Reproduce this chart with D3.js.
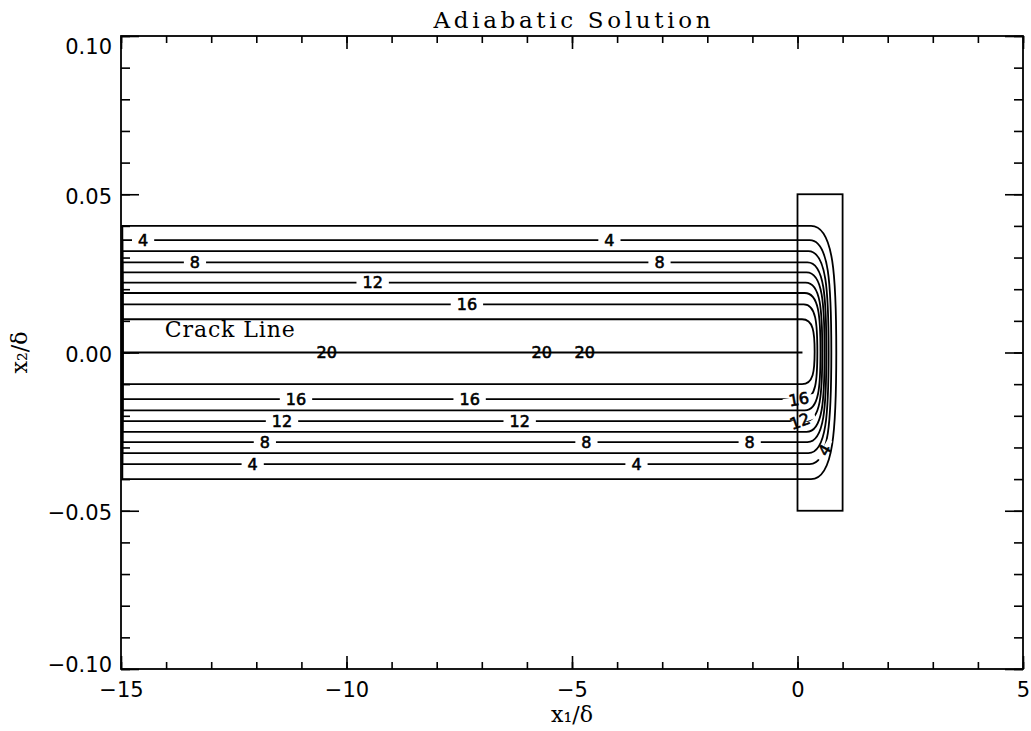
<!DOCTYPE html>
<html>
<head>
<meta charset="utf-8">
<script src="https://cdn.jsdelivr.net/npm/d3@7"></script>
<style>
  html, body { margin: 0; padding: 0; background: #fff; }
  svg { display: block; }
</style>
</head>
<body>
<div id="chart"></div>
<script>
// ---- data ----
// closed contours, outermost (2) to innermost (18); level 20 collapses on the crack line
const levels = [2, 4, 6, 8, 10, 12, 14, 16, 18]
const levelTop = [0.0400, 0.0355, 0.0320, 0.0285, 0.0253, 0.0221, 0.0188, 0.0152, 0.0105]
const levelBottom = [-0.0400, -0.0353, -0.0318, -0.0283, -0.0251, -0.0217, -0.0183, -0.0147, -0.0100]
const levelBend = [0.30, 0.27, 0.24, 0.22, 0.20, 0.18, 0.16, 0.14, 0.10]   // x where the flat part ends
const levelTip = [0.86, 0.75, 0.69, 0.64, 0.60, 0.55, 0.51, 0.44, 0.38]    // rightmost x of the loop
const levelStart = -14.97

const crackX = [-15, 0.11]
const crackY = [0, 0]

const boxX = [0, 1]
const boxY = [-0.05, 0.05]

// inline contour labels
const labelText = ['4', '4', '8', '8', '12', '16', '20', '20', '20',
  '16', '16', '16', '12', '12', '12', '8', '8', '8', '4', '4', '4']
const labelX = [-14.51, -4.17, -13.36, -3.06, -9.42, -7.33, -10.44, -5.67, -4.72,
  -11.12, -7.27, 0.03, -11.43, -6.16, 0.05, -11.81, -4.68, -1.06, -12.08, -3.57, 0.60]
const labelY = [0.0355, 0.0355, 0.0285, 0.0285, 0.0221, 0.0152, 0, 0, 0,
  -0.0147, -0.0147, -0.0147, -0.0217, -0.0217, -0.0217, -0.0283, -0.0283, -0.0283, -0.0353, -0.0353, -0.0308]
const labelAngle = [0, 0, 0, 0, 0, 0, 0, 0, 0,
  0, 0, -10, 0, 0, -20, 0, 0, 0, 0, 0, -60]

const xDomain = [-15, 5]
const yDomain = [-0.10, 0.10]
const xMajor = [-15, -10, -5, 0, 5]
const yMajor = [-0.10, -0.05, 0, 0.05, 0.10]

// ---- layout ----
const width = 1031
const height = 731
const margin = { top: 36, right: 8, bottom: 62, left: 121 }

const x = d3.scaleLinear().domain(xDomain).range([margin.left, width - margin.right])
const y = d3.scaleLinear().domain(yDomain).range([height - margin.bottom, margin.top])

const sans = '"DejaVu Sans", sans-serif'
const serif = '"DejaVu Serif", serif'
const lineW = 1.8

const svg = d3.select('#chart').append('svg')
  .attr('width', width)
  .attr('height', height)

function styleAxis(g) {
  g.select('.domain').remove()
  g.selectAll('.tick line').attr('stroke', '#000').attr('stroke-width', 1.6)
  g.selectAll('.tick text')
    .attr('fill', '#000').attr('font-size', '21px')
    .attr('font-family', sans)
}

// minor ticks
svg.append('g').attr('transform', `translate(0,${y(-0.1)})`)
  .call(d3.axisBottom(x).ticks(20).tickSize(-7).tickSizeOuter(0).tickFormat(''))
  .call(styleAxis)
svg.append('g').attr('transform', `translate(0,${y(0.1)})`)
  .call(d3.axisTop(x).ticks(20).tickSize(-7).tickSizeOuter(0).tickFormat(''))
  .call(styleAxis)
svg.append('g').attr('transform', `translate(${x(-15)},0)`)
  .call(d3.axisLeft(y).ticks(20).tickSize(-9).tickSizeOuter(0).tickFormat(''))
  .call(styleAxis)
svg.append('g').attr('transform', `translate(${x(5)},0)`)
  .call(d3.axisRight(y).ticks(20).tickSize(-9).tickSizeOuter(0).tickFormat(''))
  .call(styleAxis)

// major ticks + labels
svg.append('g').attr('class', 'axis-x').attr('transform', `translate(0,${y(-0.1)})`)
  .call(d3.axisBottom(x).tickValues(xMajor).tickSize(-13).tickSizeOuter(0).tickPadding(13)
    .tickFormat(d3.format('d')))
  .call(styleAxis)
svg.append('g').attr('transform', `translate(0,${y(0.1)})`)
  .call(d3.axisTop(x).tickValues(xMajor).tickSize(-13).tickSizeOuter(0).tickFormat(''))
  .call(styleAxis)
svg.append('g').attr('class', 'axis-y').attr('transform', `translate(${x(-15)},0)`)
  .call(d3.axisLeft(y).tickValues(yMajor).tickSize(-18).tickSizeOuter(0).tickPadding(9)
    .tickFormat(d3.format('.2f')))
  .call(styleAxis)
  .call(g => {
    g.selectAll('.tick text').attr('dy', d => d === 0.10 ? '0.85em' : (d === -0.10 ? '0.1em' : '0.42em'))
  })
svg.append('g').attr('transform', `translate(${x(5)},0)`)
  .call(d3.axisRight(y).tickValues(yMajor).tickSize(-18).tickSizeOuter(0).tickFormat(''))
  .call(styleAxis)

// frame
svg.append('rect')
  .attr('x', x(-15)).attr('y', y(0.1))
  .attr('width', x(5) - x(-15)).attr('height', y(-0.1) - y(0.1))
  .attr('fill', 'none').attr('stroke', '#000').attr('stroke-width', lineW)

// ---- contours ----
function contourPath(i) {
  const top = levelTop[i]
  const bot = levelBottom[i]
  const bend = levelBend[i]
  const tip = levelTip[i]
  const mid = (top + bot) / 2
  const knee = bend + 0.9 * (tip - bend)
  const p = d3.path()
  p.moveTo(x(levelStart), y(top))
  p.lineTo(x(bend), y(top))
  p.bezierCurveTo(x(knee), y(top), x(tip), y(mid + 0.6 * (top - mid)), x(tip), y(mid))
  p.bezierCurveTo(x(tip), y(mid + 0.6 * (bot - mid)), x(knee), y(bot), x(bend), y(bot))
  p.lineTo(x(levelStart), y(bot))
  p.closePath()
  return p.toString()
}

svg.append('g').attr('class', 'contours')
  .selectAll('path')
  .data(levels)
  .join('path')
  .attr('d', (d, i) => contourPath(i))
  .attr('fill', 'none')
  .attr('stroke', '#000')
  .attr('stroke-width', lineW)

// label gaps
const labelG = svg.append('g').attr('class', 'contour-labels')
const labels = labelG.selectAll('g')
  .data(labelText.map((t, i) => ({ t, x: labelX[i], y: labelY[i], a: labelAngle[i] })))
  .join('g')
  .attr('transform', d => `translate(${x(d.x)},${y(d.y)}) rotate(${d.a})`)

const gaps = labels.append('rect').attr('fill', '#fff')

// crack line (level 20) and tip box
svg.append('line')
  .attr('x1', x(crackX[0])).attr('x2', x(crackX[1]))
  .attr('y1', y(crackY[0])).attr('y2', y(crackY[1]))
  .attr('stroke', '#000').attr('stroke-width', lineW)

svg.append('rect')
  .attr('x', x(boxX[0])).attr('y', y(boxY[1]))
  .attr('width', x(boxX[1]) - x(boxX[0])).attr('height', y(boxY[0]) - y(boxY[1]))
  .attr('fill', 'none').attr('stroke', '#000').attr('stroke-width', lineW)

const texts = labels.append('text')
  .attr('text-anchor', 'middle')
  .attr('dy', '0.36em')
  .attr('font-family', sans)
  .attr('font-size', '16px')
  .attr('fill', '#000')
  .attr('stroke', '#000').attr('stroke-width', 0.6)
  .text(d => d.t)

texts.each(function (d) {
  const w = this.getComputedTextLength()
  d.w = d.t === '20' ? 0 : w + 12
})
gaps
  .attr('x', d => -d.w / 2).attr('width', d => d.w)
  .attr('y', d => d.a ? -2.5 : -4).attr('height', d => d.a ? 5 : 8)

// crack line annotation
svg.append('text')
  .attr('x', x(-14.03)).attr('y', y(0.0049))
  .attr('font-family', serif).attr('font-size', '22px').attr('fill', '#000')
  .attr('textLength', 130).attr('lengthAdjust', 'spacing')
  .text('Crack Line')

// title
svg.append('text')
  .attr('x', (x(-15) + x(5)) / 2).attr('y', 28)
  .attr('text-anchor', 'middle')
  .attr('font-family', serif).attr('font-size', '23px').attr('fill', '#000')
  .attr('textLength', 277).attr('lengthAdjust', 'spacing')
  .text('Adiabatic Solution')

// axis titles
svg.append('text')
  .attr('x', (x(-15) + x(5)) / 2).attr('y', 722)
  .attr('text-anchor', 'middle')
  .attr('font-family', serif).attr('font-size', '22px').attr('fill', '#000')
  .text('x\u2081/\u03b4')

svg.append('text')
  .attr('transform', `translate(27,${y(0)}) rotate(-90)`)
  .attr('text-anchor', 'middle')
  .attr('font-family', serif).attr('font-size', '22px').attr('fill', '#000')
  .text('x\u2082/\u03b4')
</script>
</body>
</html>
